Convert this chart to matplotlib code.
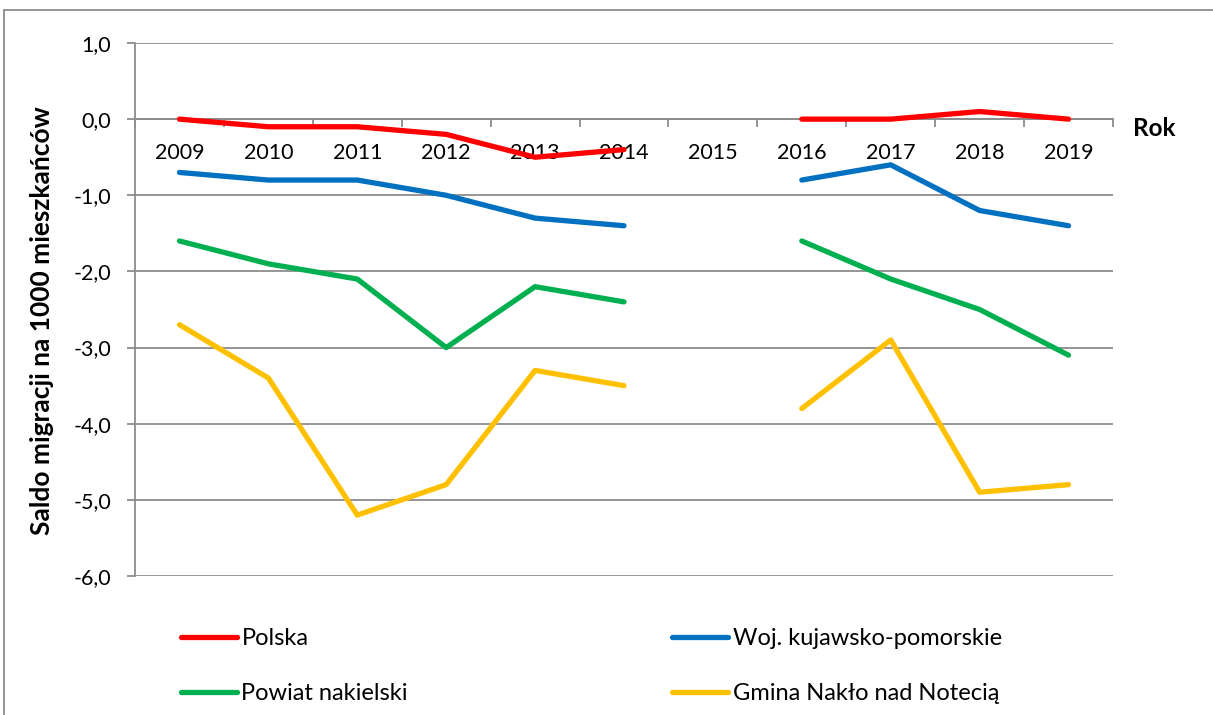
import numpy as np
import matplotlib
matplotlib.use("Agg")
import matplotlib.pyplot as plt
from matplotlib.lines import Line2D
from matplotlib.ticker import FuncFormatter, FixedLocator

plt.rcParams['font.family'] = ['Lato', 'DejaVu Sans']

years = ['2009', '2010', '2011', '2012', '2013', '2014', '2015', '2016', '2017', '2018', '2019']
polska = [0.0, -0.1, -0.1, -0.2, -0.5, -0.4, np.nan, 0.0, 0.0, 0.1, 0.0]
woj = [-0.7, -0.8, -0.8, -1.0, -1.3, -1.4, np.nan, -0.8, -0.6, -1.2, -1.4]
powiat = [-1.6, -1.9, -2.1, -3.0, -2.2, -2.4, np.nan, -1.6, -2.1, -2.5, -3.1]
gmina = [-2.7, -3.4, -5.2, -4.8, -3.3, -3.5, np.nan, -3.8, -2.9, -4.9, -4.8]

names = ['Polska', 'Woj. kujawsko-pomorskie', 'Powiat nakielski', 'Gmina Nakło nad Notecią']
colors = ['#FF0000', '#0070C0', '#00B050', '#FFC000']

grey = '#8C8C8C'

fig = plt.figure(figsize=(12.13, 7.15), dpi=100)
ax = fig.add_axes([135/1213, 1 - 576/715, (1113-135)/1213, (576-43)/715])

x = np.arange(len(years))
handles = []
for vals, name, c in zip([polska, woj, powiat, gmina], names, colors):
    h, = ax.plot(x, vals, color=c, lw=3.8, solid_capstyle='round',
                 solid_joinstyle='round', label=name, zorder=3)
    handles.append(h)

ax.set_xlim(-0.5, len(years) - 0.5)
ax.set_ylim(-6, 1)
ax.set_yticks(np.arange(-6, 1.1, 1))
ax.yaxis.set_major_formatter(FuncFormatter(lambda v, p: f"{v:.1f}".replace('.', ',')))
ax.grid(axis='y', color=grey, lw=1.3)
ax.set_axisbelow(True)

for s in ['top', 'right']:
    ax.spines[s].set_visible(False)
ax.spines['bottom'].set_position(('data', 0))
ax.spines['bottom'].set_color(grey)
ax.spines['bottom'].set_linewidth(1.3)
ax.spines['left'].set_color(grey)
ax.spines['left'].set_linewidth(1.3)

ax.set_xticks(x)
ax.set_xticklabels(years)
ax.xaxis.set_minor_locator(FixedLocator(np.arange(-0.5, len(years), 1)))
ax.tick_params(axis='x', which='major', length=0, pad=17, labelsize=15.5)
ax.tick_params(axis='x', which='minor', length=6, width=1.3, color=grey, direction='out')
ax.tick_params(axis='y', length=6, width=1.3, color=grey, pad=11, labelsize=15.5)

ax.set_ylabel('Saldo migracji na 1000 mieszkańców', fontsize=19, fontweight='bold')
ax.yaxis.set_label_coords(-0.083, 0.48)
fig.text(1133/1213, 1 - 128/715, 'Rok', fontsize=17.5, fontweight='bold', ha='left', va='center')

# row-wise order like the original legend
order = [0, 2, 1, 3]
fig.legend(handles=[handles[i] for i in order], ncol=2, loc='upper left',
           bbox_to_anchor=(160/1213, 1 - 607/715), frameon=False,
           fontsize=17, handlelength=2.35, handletextpad=0.2,
           columnspacing=11.2, labelspacing=1.45)

# chart border
fig.add_artist(Line2D([4/1213, 4/1213], [0, 1 - 10/715], color=grey, lw=1.3))
fig.add_artist(Line2D([4/1213, 1], [1 - 10/715, 1 - 10/715], color=grey, lw=1.3))

fig.savefig('out.png', dpi=100)
